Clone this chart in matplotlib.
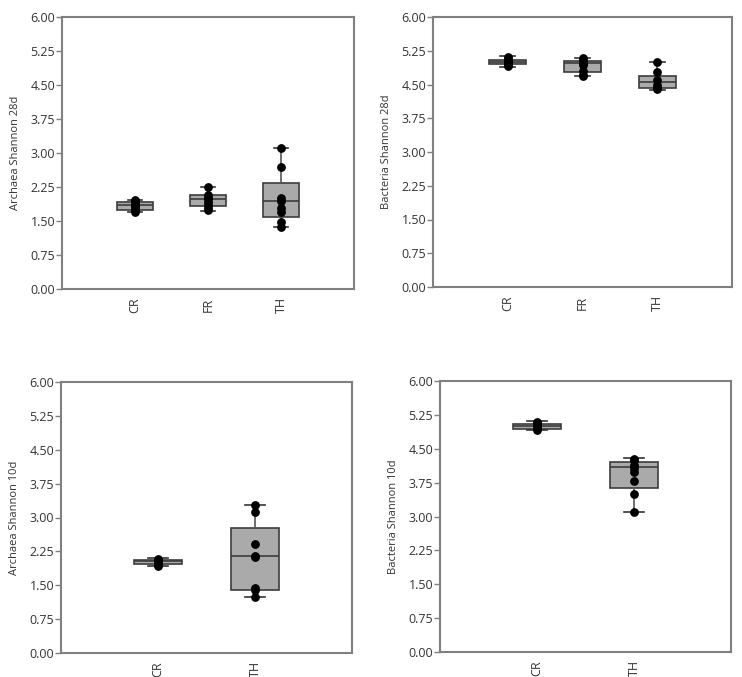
import matplotlib.pyplot as plt

# Box statistics: (q1, median, q3, whisker low, whisker high)
a28_groups = ["CR", "FR", "TH"]
a28_boxes = [(1.74, 1.86, 1.92, 1.69, 1.97),
             (1.83, 1.99, 2.07, 1.72, 2.25),
             (1.58, 1.95, 2.34, 1.37, 3.12)]
a28_points = [[1.97, 1.94, 1.90, 1.86, 1.82, 1.78, 1.74, 1.70],
              [2.25, 2.07, 2.03, 1.98, 1.93, 1.85, 1.78, 1.74],
              [3.12, 2.70, 2.01, 1.95, 1.78, 1.70, 1.48, 1.37]]

b28_groups = ["CR", "FR", "TH"]
b28_boxes = [(4.95, 5.00, 5.04, 4.89, 5.13),
             (4.77, 4.97, 5.03, 4.69, 5.08),
             (4.42, 4.56, 4.68, 4.38, 5.01)]
b28_points = [[5.12, 5.06, 5.02, 4.98, 4.95, 4.92],
              [5.09, 5.04, 4.97, 4.93, 4.79, 4.72, 4.70],
              [5.01, 4.77, 4.60, 4.50, 4.45, 4.39]]

a10_groups = ["CR", "TH"]
a10_boxes = [(1.96, 2.03, 2.07, 1.92, 2.10),
             (1.40, 2.14, 2.77, 1.23, 3.27)]
a10_points = [[2.08, 2.05, 2.02, 1.98, 1.95, 1.93],
              [3.27, 3.12, 2.41, 2.15, 2.13, 1.44, 1.39, 1.23]]

b10_groups = ["CR", "TH"]
b10_boxes = [(4.94, 5.00, 5.04, 4.91, 5.11),
             (3.63, 4.10, 4.21, 3.10, 4.30)]
b10_points = [[5.10, 5.06, 5.02, 4.98, 4.95, 4.92],
              [4.28, 4.24, 4.15, 4.07, 3.99, 3.79, 3.49, 3.10]]

y_ticks = [0.00, 0.75, 1.50, 2.25, 3.00, 3.75, 4.50, 5.25, 6.00]

W, H = 742, 677
fig = plt.figure(figsize=(W / 100, H / 100), dpi=100)
plt.rcParams['font.family'] = ['Open Sans', 'DejaVu Sans']

frame_col = '#808080'


def px_axes(left, right, top, bottom):
    return fig.add_axes([left / W, 1 - bottom / H, (right - left) / W, (bottom - top) / H])


def draw_panel(ax, groups, boxes, points, ylabel):
    stats = []
    for g, (q1, med, q3, lo, hi) in zip(groups, boxes):
        stats.append(dict(label=g, q1=q1, med=med, q3=q3, whislo=lo, whishi=hi, fliers=[]))
    pos = list(range(1, len(groups) + 1))
    ax.bxp(stats, positions=pos, widths=0.5, patch_artist=True, capwidths=0.2,
           boxprops=dict(facecolor='#aaaaaa', edgecolor='#3c3c3c', linewidth=1.2),
           medianprops=dict(color='#3c3c3c', linewidth=1.2),
           whiskerprops=dict(color='#555555', linewidth=1.2),
           capprops=dict(color='#333333', linewidth=1.2),
           zorder=2)
    for p, vals in zip(pos, points):
        ax.plot([p] * len(vals), vals, 'o', color='black', markersize=5.3, zorder=3)
    ax.set_xlim(0, len(groups) + 1)
    ax.set_ylim(0, 6)
    ax.set_yticks(y_ticks)
    ax.set_yticklabels([f"{t:.2f}" for t in y_ticks], fontsize=9, color='#333333')
    ax.set_xticks(pos)
    ax.set_xticklabels(groups, rotation=90, fontsize=9, color='#333333')
    ax.set_ylabel(ylabel, fontsize=8, color='#333333', labelpad=7)
    ax.tick_params(axis='y', length=4, color=frame_col, width=1, pad=1)
    ax.tick_params(axis='x', length=0, pad=6)
    for s in ax.spines.values():
        s.set_color(frame_col)
        s.set_linewidth(1.5)


draw_panel(px_axes(62, 354, 17, 289), a28_groups, a28_boxes, a28_points, "Archaea Shannon 28d")
draw_panel(px_axes(433, 732, 17, 287), b28_groups, b28_boxes, b28_points, "Bacteria Shannon 28d")
draw_panel(px_axes(61, 352, 382, 653), a10_groups, a10_boxes, a10_points, "Archaea Shannon 10d")
draw_panel(px_axes(440, 731, 381, 652), b10_groups, b10_boxes, b10_points, "Bacteria Shannon 10d")

fig.savefig("out.png", dpi=100)
